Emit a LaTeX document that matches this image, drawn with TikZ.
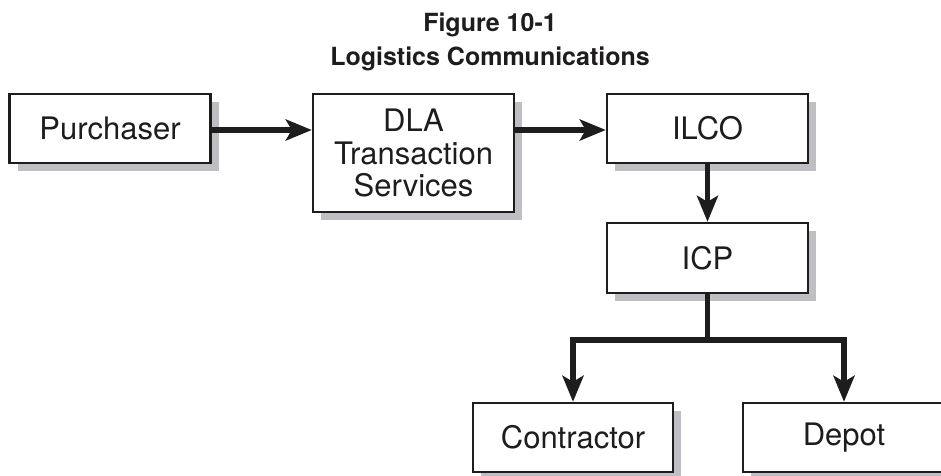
\documentclass[tikz,border=0pt]{standalone}
\usepackage{fontspec}
\setmainfont{TeX Gyre Heros}
\usetikzlibrary{arrows.meta,shadows}
\definecolor{shadowgray}{RGB}{190,191,195}
\definecolor{inkcol}{RGB}{30,28,29}
\tikzset{
  box/.style={draw=inkcol, line width=2.4pt, fill=white, inner sep=0pt,
    minimum width=201pt, minimum height=69pt, align=center,
    font=\fontsize{31}{32.5}\selectfont, text=inkcol,
    drop shadow={shadow xshift=8pt, shadow yshift=-8pt, fill=shadowgray, opacity=1}},
  flow/.style={draw=inkcol, line width=5.5pt,
    -{Stealth[length=26pt,width=21pt,inset=6pt]}},
  trunk/.style={draw=inkcol, line width=5.5pt},
  titletext/.style={font=\fontsize{25}{28}\bfseries\selectfont, text=inkcol, anchor=base, inner sep=0pt}
}
\begin{document}
\begin{tikzpicture}[x=1pt,y=-1pt]
\useasboundingbox (0,0) rectangle (941,475);
\clip (0,0) rectangle (941,475);
\node[titletext] (t1) at (490,31) {Figure 10-1};
\node[titletext] (t2) at (490,65) {Logistics Communications};
\node[box] (pur) at (110,128.5) {Purchaser};
\node[box, minimum height=118pt] (dla) at (413.5,153) {DLA\\Transaction\\Services};
\node[box] (ilco) at (707.5,128.5) {ILCO};
\node[box, minimum height=70pt] (icp) at (707.5,258) {ICP};
\node[box, minimum width=200pt] (con) at (573,437.5) {Contractor};
\node[box, minimum width=202pt] (dep) at (844,437.5) {Depot};
\coordinate (split) at (707.5,340);
\coordinate (lft) at (573,340);
\coordinate (rgt) at (844,340);
\draw[flow] (pur.east |- 0,130) -- (dla.west |- 0,130);
\draw[flow] (dla.east |- 0,130) -- (ilco.west |- 0,130);
\draw[flow] (ilco.south) -- (icp.north);
\draw[trunk] (icp.south) -- (split);
\draw[trunk, line cap=rect] (lft) -- (rgt);
\draw[flow] (lft) -- (con.north);
\draw[flow] (rgt) -- (dep.north);
\end{tikzpicture}
\end{document}
